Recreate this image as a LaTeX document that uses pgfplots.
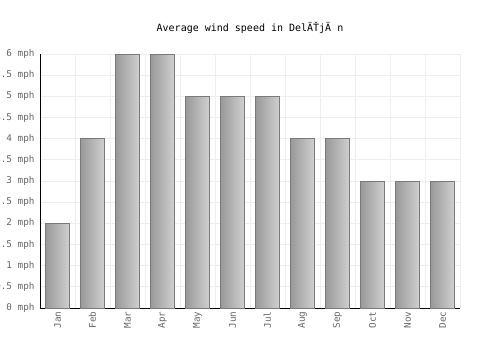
\documentclass[border=0pt]{standalone}
\usepackage{pgfplots}
\pgfplotsset{compat=1.18}
\usepackage{fontspec}
\setmainfont{DejaVu Sans Mono}
\setmonofont{DejaVu Sans Mono}
\definecolor{gridc}{HTML}{EEEEEE}
\definecolor{tickc}{HTML}{666666}
\definecolor{barl}{HTML}{999999}
\definecolor{barr}{HTML}{D0D0D0}
\definecolor{bard}{HTML}{7A7A7A}
\tikzset{mybar/.style={ybar, bar width=24bp, bar shift=0pt, draw=bard, line width=0.8pt, left color=barl, right color=barr}}
\begin{document}
\begin{tikzpicture}
\path[use as bounding box] (0,0) rectangle (500bp,350bp);
\begin{axis}[
  at={(40bp,42bp)}, anchor=south west,
  scale only axis, width=420bp, height=254bp,
  xmin=-0.5, xmax=11.5, ymin=0, ymax=6,
  axis x line*=bottom, axis y line*=left,
  axis line style={black, line width=0.9pt, -},
  xtick={0,...,11},
  xticklabels={Jan,Feb,Mar,Apr,May,Jun,Jul,Aug,Sep,Oct,Nov,Dec},
  minor xtick={-0.5,0.5,...,11.5},
  xminorgrids, ymajorgrids,
  grid style={gridc, line width=0.8pt},
  minor grid style={gridc, line width=0.8pt},
  ytick={0,0.5,...,6},
  yticklabel={\pgfmathprintnumber[fixed,precision=1]{\tick}~mph},
  /pgf/number format/assume math mode=true,
  major tick length=0pt, minor tick length=0pt,
  tick label style={font=\fontsize{9.3bp}{11bp}\selectfont, text=tickc},
  xticklabel style={rotate=90, anchor=east},
  yticklabel style={xshift=-2bp},
  clip=false,
]
\addplot[mybar] coordinates {(0,2)};
\addplot[mybar] coordinates {(1,4)};
\addplot[mybar] coordinates {(2,6)};
\addplot[mybar] coordinates {(3,6)};
\addplot[mybar] coordinates {(4,5)};
\addplot[mybar] coordinates {(5,5)};
\addplot[mybar] coordinates {(6,5)};
\addplot[mybar] coordinates {(7,4)};
\addplot[mybar] coordinates {(8,4)};
\addplot[mybar] coordinates {(9,3)};
\addplot[mybar] coordinates {(10,3)};
\addplot[mybar] coordinates {(11,3)};
\end{axis}
\node[font=\fontsize{10bp}{12bp}\selectfont] at (250bp,322bp) {Average wind speed in Del\"A\v{T}j\"A n};
\end{tikzpicture}
\end{document}
